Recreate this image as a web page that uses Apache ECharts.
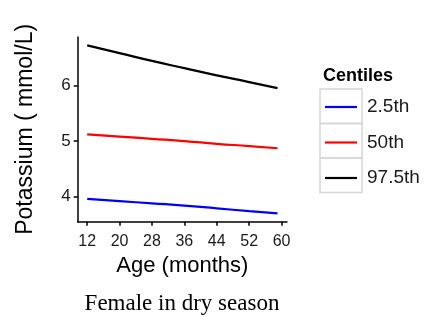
<!DOCTYPE html>
<html lang="en">
<head>
  <meta charset="UTF-8">
  <script src="https://cdn.jsdelivr.net/npm/echarts@6.0.0/dist/echarts.min.js"></script>
  <title>Potassium centiles</title>
  <style>
    html, body { margin: 0; padding: 0; background: #fff; }
    .container { width: 432px; height: 317px; }
  </style>
</head>
<body>
  <div class="container"></div>
  <script>
    const ages = [12, 20, 28, 36, 44, 52, 59];
    const p2_5 = [3.96, 3.92, 3.88, 3.84, 3.79, 3.74, 3.70];
    const p50 = [5.12, 5.08, 5.04, 5.00, 4.95, 4.91, 4.87];
    const p97_5 = [6.72, 6.58, 6.44, 6.31, 6.18, 6.06, 5.95];
    const xTicks = [12, 20, 28, 36, 44, 52, 60];
    const yTicks = [4, 5, 6];
    const names = ["2.5th", "50th", "97.5th"];
    const colors = ["#0000ff", "#ff0000", "#000000"];

    const toPairs = (vals) => ages.map((a, i) => [a, vals[i]]);

    const chart = echarts.init(document.querySelector(".container"));
    const axisCommon = {
      axisLine: { show: true, lineStyle: { color: "#000", width: 1.5 } },
      axisTick: { show: true, length: 4, lineStyle: { color: "#000", width: 1.5 } },
      splitLine: { show: false },
      axisLabel: { color: "#1a1a1a", fontSize: 16, fontFamily: "Liberation Sans" },
      nameTextStyle: { color: "#000", fontSize: 22, fontFamily: "Liberation Sans" },
    };

    const options = {
      backgroundColor: "#fff",
      animation: false,
      color: colors,
      title: [
        {
          text: "Female in dry season",
          left: 177,
          top: 287,
          textAlign: "center",
          textStyle: { fontFamily: "Liberation Serif", fontSize: 23, fontWeight: "normal", color: "#000" },
        },
        {
          text: "Centiles",
          left: 318,
          top: 62,
          textStyle: { fontFamily: "Liberation Sans", fontSize: 18, fontWeight: "bold", color: "#000" },
        },
      ],
      grid: { left: 77.7, right: 145, top: 37, bottom: 95.3 },
      legend: {
        orient: "vertical",
        left: 325,
        top: 97.5,
        padding: 0,
        itemWidth: 32,
        itemHeight: 18,
        itemGap: 16.5,
        icon: "path://M0,0 L32,0 L32,2.2 L0,2.2 Z",
        textStyle: { fontSize: 19, lineHeight: 18, fontFamily: "Liberation Sans", color: "#1a1a1a", padding: [0, 0, 0, 5] },
        data: names,
      },
      graphic: [0, 1, 2].map((i) => ({
        type: "rect",
        shape: { x: 320, y: 89 + i * 34.5, width: 42, height: 34.5 },
        style: { fill: "none", stroke: "#d6d6d6", lineWidth: 1.5 },
        z: -1,
      })),
      xAxis: Object.assign({}, axisCommon, {
        type: "value",
        min: 9.65,
        max: 61.35,
        name: "Age (months)",
        nameLocation: "middle",
        nameGap: 28,
        axisTick: Object.assign({}, axisCommon.axisTick, { customValues: xTicks }),
        axisLabel: Object.assign({}, axisCommon.axisLabel, { customValues: xTicks, margin: 12 }),
      }),
      yAxis: Object.assign({}, axisCommon, {
        type: "value",
        min: 3.55,
        max: 6.87,
        name: "Potassium ( mmol/L)",
        nameLocation: "middle",
        nameGap: 41,
        nameTextStyle: Object.assign({}, axisCommon.nameTextStyle, { fontSize: 23 }),
        axisTick: Object.assign({}, axisCommon.axisTick, { customValues: yTicks }),
        axisLabel: Object.assign({}, axisCommon.axisLabel, { customValues: yTicks, margin: 7, fontSize: 17 }),
      }),
      series: [p2_5, p50, p97_5].map((vals, i) => ({
        name: names[i],
        type: "line",
        data: toPairs(vals),
        symbol: "none",
        smooth: true,
        lineStyle: { width: 2.2, color: colors[i] },
      })),
    };

    chart.setOption(options);
  </script>
</body>
</html>
